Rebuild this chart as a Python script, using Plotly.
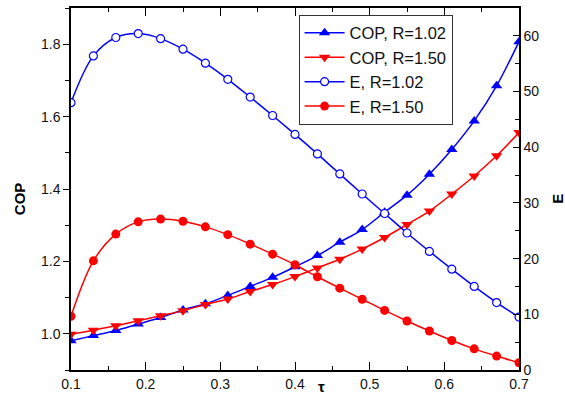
import plotly.graph_objects as go

tau = [0.10, 0.13, 0.16, 0.19, 0.22, 0.25, 0.28, 0.31, 0.34, 0.37, 0.40,
       0.43, 0.46, 0.49, 0.52, 0.55, 0.58, 0.61, 0.64, 0.67, 0.70]

cop_r102 = [0.981, 0.995, 1.009, 1.027, 1.045, 1.066, 1.083, 1.106, 1.131, 1.156, 1.185,
            1.216, 1.253, 1.288, 1.336, 1.383, 1.441, 1.509, 1.588, 1.685, 1.807]
cop_r150 = [0.999, 1.010, 1.022, 1.036, 1.050, 1.064, 1.081, 1.096, 1.117, 1.136, 1.158,
            1.182, 1.206, 1.234, 1.266, 1.302, 1.339, 1.386, 1.436, 1.492, 1.556]
e_r102 = [48.0, 56.4, 59.7, 60.4, 59.5, 57.6, 55.1, 52.2, 49.0, 45.7, 42.3,
          38.8, 35.2, 31.6, 28.1, 24.6, 21.3, 18.1, 15.0, 12.1, 9.5]
e_r150 = [9.65, 19.6, 24.4, 26.6, 27.1, 26.7, 25.7, 24.3, 22.6, 20.8, 18.9,
          16.75, 14.7, 12.7, 10.7, 8.8, 7.0, 5.3, 3.8, 2.5, 1.3]

BLUE = "#0000FF"
RED = "#FF0000"
FONT = "Liberation Sans, Arial, sans-serif"

fig = go.Figure()
fig.add_trace(go.Scatter(x=tau, y=cop_r102, name="COP, R=1.02", mode="lines+markers",
                         line=dict(color=BLUE, width=1.5, shape="spline"),
                         marker=dict(symbol="triangle-up", size=10, color=BLUE)))
fig.add_trace(go.Scatter(x=tau, y=cop_r150, name="COP, R=1.50", mode="lines+markers",
                         line=dict(color=RED, width=1.5, shape="spline"),
                         marker=dict(symbol="triangle-down", size=10, color=RED)))
fig.add_trace(go.Scatter(x=tau, y=e_r102, name="E, R=1.02", mode="lines+markers", yaxis="y2",
                         line=dict(color=BLUE, width=1.5, shape="spline"),
                         marker=dict(symbol="circle", size=8, color="white",
                                     line=dict(color=BLUE, width=1.2))))
fig.add_trace(go.Scatter(x=tau, y=e_r150, name="E, R=1.50", mode="lines+markers", yaxis="y2",
                         line=dict(color=RED, width=1.5, shape="spline"),
                         marker=dict(symbol="circle", size=9, color=RED)))

fig.update_layout(
    width=565, height=395,
    margin=dict(l=71, r=46, t=8, b=25, autoexpand=False),
    paper_bgcolor="white", plot_bgcolor="white",
    font=dict(family=FONT, size=14, color="#111"),
    showlegend=True,
    legend=dict(x=0.508, y=0.982, xanchor="left", yanchor="top",
                bgcolor="white", bordercolor="#333", borderwidth=1,
                font=dict(family=FONT, size=16.5, color="#111"),
                tracegroupgap=0, itemwidth=40),
    xaxis=dict(range=[0.1, 0.7], dtick=0.1, tick0=0.1, tickformat=".1f", automargin=False,
               showgrid=False, zeroline=False, showline=True, linecolor="black", linewidth=1.5,
               ticks="inside", ticklen=8, tickwidth=1.2, tickcolor="black", mirror="ticks",
               minor=dict(dtick=0.05, ticks="inside", ticklen=4, tickcolor="black", tickwidth=1)),
    yaxis=dict(range=[0.9, 1.9], dtick=0.2, tick0=1.0, tickformat=".1f", automargin=False,
               showgrid=False, zeroline=False, showline=True, linecolor="black", linewidth=1.5,
               ticks="outside", ticklen=6, tickwidth=1.2, tickcolor="black",
               minor=dict(dtick=0.1, ticks="outside", ticklen=4, tickcolor="black", tickwidth=1)),
    yaxis2=dict(range=[0, 65], dtick=10, overlaying="y", side="right", automargin=False,
                showgrid=False, zeroline=False, showline=True, linecolor="black", linewidth=1.5,
                ticks="inside", ticklen=6, tickwidth=1.2, tickcolor="black",
                minor=dict(dtick=5, ticks="inside", ticklen=4, tickcolor="black", tickwidth=1)),
    annotations=[
        dict(text="<b>COP</b>", xref="paper", yref="paper", x=-0.116, y=0.472, textangle=-90,
             xanchor="center", yanchor="middle",
             showarrow=False, font=dict(family=FONT, size=15, color="black")),
        dict(text="<b>E</b>", xref="paper", yref="paper", x=1.086, y=0.472, textangle=-90,
             xanchor="center", yanchor="middle",
             showarrow=False, font=dict(family=FONT, size=15, color="black")),
        dict(text="<b>τ</b>", xref="paper", yref="paper", x=0.559, y=-0.045,
             xanchor="center", yanchor="middle",
             showarrow=False, font=dict(family=FONT, size=15, color="black")),
    ],
)

fig.write_html("out.html", config={"displayModeBar": False},
               post_script="document.body.style.margin='0';document.body.style.overflow='hidden';")
